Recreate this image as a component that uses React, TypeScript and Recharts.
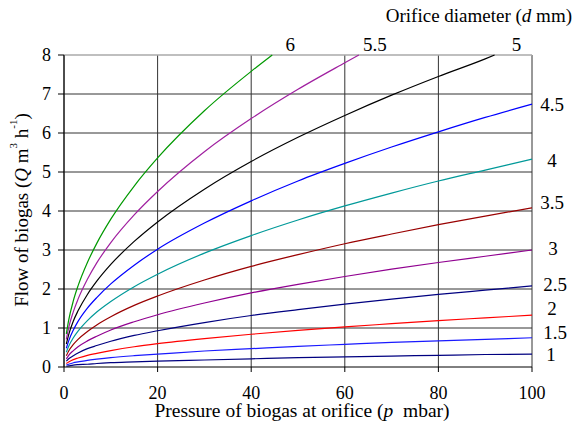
import React from 'react';
import { LineChart, Line, XAxis, YAxis, CartesianGrid, Label, ReferenceLine } from 'recharts';

const pressure = [0.5, 1, 2, 3, 5, 7, 10, 15, 20, 30, 40, 50, 60, 70, 80, 90, 100];

// flow (m3/h) for each orifice diameter
const q1 = [0.02, 0.03, 0.05, 0.06, 0.07, 0.09, 0.11, 0.13, 0.15, 0.18, 0.21, 0.24, 0.26, 0.28, 0.3, 0.32, 0.33];
const q15 = [0.05, 0.07, 0.11, 0.13, 0.17, 0.2, 0.24, 0.29, 0.33, 0.41, 0.47, 0.53, 0.58, 0.63, 0.67, 0.71, 0.75];
const q2 = [0.09, 0.13, 0.19, 0.23, 0.3, 0.35, 0.42, 0.52, 0.6, 0.73, 0.84, 0.94, 1.03, 1.11, 1.19, 1.26, 1.33];
const q25 = [0.15, 0.21, 0.29, 0.36, 0.47, 0.55, 0.66, 0.81, 0.93, 1.14, 1.32, 1.47, 1.61, 1.74, 1.86, 1.97, 2.08];
const q3 = [0.21, 0.3, 0.42, 0.52, 0.67, 0.79, 0.95, 1.16, 1.34, 1.64, 1.9, 2.12, 2.32, 2.51, 2.68, 2.84, 3.0];
const q35 = [0.29, 0.41, 0.58, 0.71, 0.91, 1.08, 1.29, 1.58, 1.82, 2.23, 2.58, 2.88, 3.16, 3.41, 3.65, 3.87, 4.08];
const q4 = [0.38, 0.53, 0.75, 0.92, 1.19, 1.41, 1.68, 2.06, 2.38, 2.92, 3.37, 3.77, 4.13, 4.46, 4.77, 5.05, 5.33];
const q45 = [0.48, 0.67, 0.95, 1.17, 1.51, 1.78, 2.13, 2.61, 3.02, 3.69, 4.26, 4.77, 5.22, 5.64, 6.03, 6.4, 6.74];
const q5 = [0.59, 0.83, 1.18, 1.44, 1.86, 2.2, 2.63, 3.22, 3.72, 4.56, 5.27, 5.89, 6.45, 6.97, 7.45, 7.9];
const q55 = [0.71, 1.01, 1.42, 1.74, 2.25, 2.67, 3.19, 3.9, 4.5, 5.52, 6.37, 7.12, 7.8];
const q6 = [0.85, 1.2, 1.7, 2.08, 2.68, 3.17, 3.79, 4.64, 5.36, 6.57, 7.58];

// the big orifices leave the chart at the top (Q = 8) at these pressures
const exitPressure5 = 92;
const exitPressure55 = 63;
const exitPressure6 = 44.5;
const topFlow = 8;

const xTicks = [0, 20, 40, 60, 80, 100];
const yTicks = [0, 1, 2, 3, 4, 5, 6, 7, 8];
const gridRows = [1, 2, 3, 4, 5, 6, 7];

const toPoints = (values: number[], exitP?: number) => {
  const pts = values.map((q, i) => ({ p: pressure[i], q }));
  if (exitP !== undefined) pts.push({ p: exitP, q: topFlow });
  return pts;
};

const series = [
  { name: '1', data: toPoints(q1), color: '#000080', dx: 19, dy: 0 },
  { name: '1.5', data: toPoints(q15), color: '#1a1aff', dx: 23, dy: -5 },
  { name: '2', data: toPoints(q2), color: '#ff0000', dx: 20, dy: -7 },
  { name: '2.5', data: toPoints(q25), color: '#000080', dx: 23, dy: -1 },
  { name: '3', data: toPoints(q3), color: '#900090', dx: 21, dy: -2 },
  { name: '3.5', data: toPoints(q35), color: '#990000', dx: 20, dy: -5 },
  { name: '4', data: toPoints(q4), color: '#009999', dx: 20, dy: 1 },
  { name: '4.5', data: toPoints(q45), color: '#0000ff', dx: 20, dy: 0 },
  { name: '5', data: toPoints(q5, exitPressure5), color: '#000000', dx: 22, dy: -11 },
  { name: '5.5', data: toPoints(q55, exitPressure55), color: '#a020a0', dx: 16, dy: -11 },
  { name: '6', data: toPoints(q6, exitPressure6), color: '#009900', dx: 18, dy: -11 },
];

const font = '"Liberation Serif", "Times New Roman", serif';
const serif = { fontFamily: font };

const XTick = (props: any) => (
  <text x={props.x} y={props.y + 25} textAnchor="middle" fontSize={18} fill="#000" style={serif}>
    {props.payload.value}
  </text>
);

const YTick = (props: any) => (
  <text x={props.x - 5} y={props.y} textAnchor="end" dominantBaseline="central" fontSize={18} fill="#000" style={serif}>
    {props.payload.value}
  </text>
);

export default function App() {
  return (
    <div style={{ position: 'absolute', left: 0, top: 0, width: 577, height: 429, background: '#fff', fontFamily: font }}>
      <div
        style={{
          position: 'absolute',
          right: 5,
          top: 4,
          fontFamily: font,
          fontSize: 19,
          lineHeight: '24px',
          color: '#000',
          whiteSpace: 'nowrap',
        }}
      >
        Orifice diameter (<i>d</i> mm)
      </div>
      <LineChart width={577} height={429} margin={{ top: 55, right: 45, bottom: 22, left: 4 }} style={serif}>
        <CartesianGrid stroke="#333" strokeWidth={1} horizontalValues={gridRows} />
        <ReferenceLine y={topFlow} stroke="#aaa" strokeWidth={1.5} />
        <XAxis
          type="number"
          dataKey="p"
          domain={[0, 100]}
          ticks={xTicks}
          height={40}
          allowDuplicatedCategory={false}
          stroke="#000"
          tickSize={5}
          tick={<XTick />}
        >
          <Label
            content={({ viewBox }: any) => (
              <text x={viewBox.x + 238} y={viewBox.y + 50} textAnchor="middle" fontSize={19.5} fill="#000" style={serif}>
                Pressure of biogas at orifice (<tspan fontStyle="italic">p</tspan>
                <tspan>{'\u00a0 mbar)'}</tspan>
              </text>
            )}
          />
        </XAxis>
        <YAxis
          type="number"
          dataKey="q"
          domain={[0, 8]}
          ticks={yTicks}
          width={60}
          stroke="#000"
          tickSize={6}
          tick={<YTick />}
        >
          <Label
            content={() => (
              <text
                x={21}
                y={210}
                transform="rotate(-90 21 210)"
                textAnchor="middle"
                dominantBaseline="central"
                fontSize={19}
                fill="#000"
                style={serif}
              >
                Flow of biogas (<tspan fontStyle="italic">Q</tspan> m
                <tspan fontSize={11} dy={-8}>3</tspan>
                <tspan dy={8}> h</tspan>
                <tspan fontSize={11} dy={-8}>-1</tspan>
                <tspan dy={8}>)</tspan>
              </text>
            )}
          />
        </YAxis>
        {series.map((s) => (
          <Line
            key={s.name}
            data={s.data}
            dataKey="q"
            type="monotone"
            stroke={s.color}
            strokeWidth={1.2}
            dot={false}
            isAnimationActive={false}
            label={(props: any) =>
              props.index === s.data.length - 1 ? (
                <text
                  key={s.name}
                  x={props.x + s.dx}
                  y={props.y + s.dy}
                  textAnchor="middle"
                  dominantBaseline="central"
                  fontSize={19}
                  fill="#000"
                  style={serif}
                >
                  {s.name}
                </text>
              ) : (
                <g key={props.index} />
              )
            }
          />
        ))}
      </LineChart>
    </div>
  );
}
